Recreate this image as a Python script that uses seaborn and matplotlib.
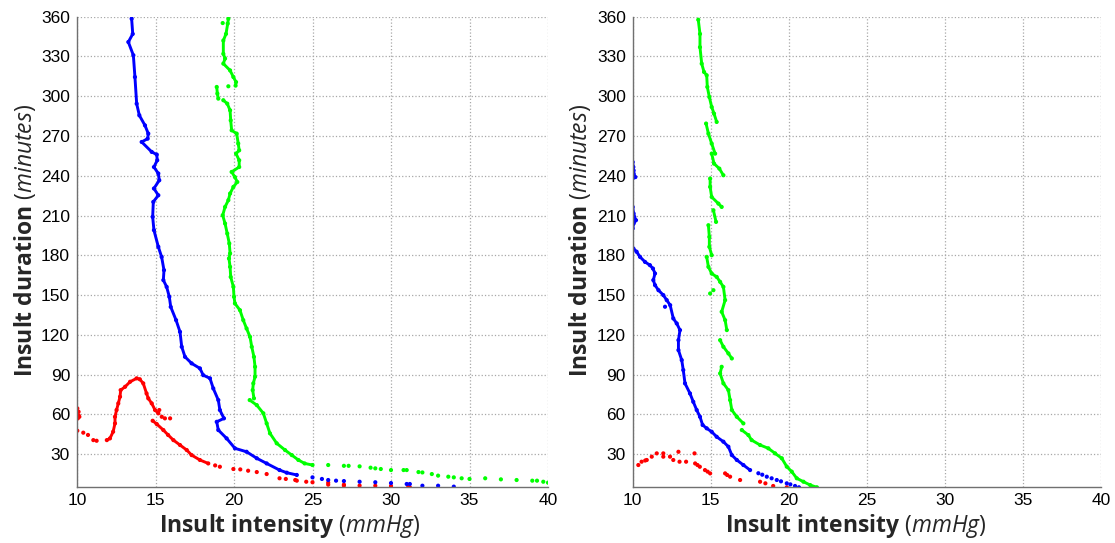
import numpy as np
import pandas as pd
import seaborn as sns
import matplotlib
matplotlib.use("Agg")
import matplotlib.pyplot as plt
from matplotlib.ticker import MultipleLocator

# ---- data (seg 0 = loose dots, seg > 0 = connected run) ----
# left panel
L_BLUE_X = [13.48, 13.55, 13.27, 13.59, 13.69, 13.80, 13.97, 14.33, 14.54, 14.50, 14.12, 14.76, 15.08, 15.11,
            14.90, 15.18, 15.24, 14.90, 15.18, 14.86, 14.82, 14.90, 15.18, 15.39, 15.54, 15.50, 15.71, 15.88,
            15.97, 16.31, 16.56, 16.67, 16.88, 17.30, 17.83, 18.04, 18.47, 18.68, 19.00, 19.10, 19.36, 18.90,
            19.00, 19.53, 20.06, 20.80, 21.45, 22.08, 22.90, 23.36, 24.00,
            25.0, 25.6, 26.0, 26.5, 27.0, 28.0, 29.0, 30.0, 31.0, 31.2, 32.0, 33.0, 34.0]
L_BLUE_Y = [358.5, 347, 340.9, 330.9, 314.5, 294.4, 285.6, 278, 271.8, 268, 265.5, 258, 256, 251.7,
            246.6, 241.7, 236.6, 230.4, 225.3, 220.3, 209, 199, 186.4, 178.8, 168.8, 161.3, 156.2, 148.7,
            141.1, 131.1, 122.3, 111, 103.4, 98.5, 94.7, 89.6, 87.2, 79.6, 70.8, 63.3, 57, 54.4,
            48.2, 41.9, 34.4, 31.8, 26.9, 23, 18, 16, 14.3,
            12.5, 11.3, 10.5, 10, 9.7, 9.2, 8.8, 8.2, 7.5, 7.5, 6.2, 6.2, 5.5]
L_BLUE_SEG = [1] * 51 + [0] * 13

L_GREEN_X = [19.64, 19.60, 19.49, 19.32, 19.32, 19.43, 19.32, 19.75, 19.96, 20.13, 20.10,
             19.28, 19.64,
             18.90, 18.94, 19.00,
             19.32, 19.57, 19.75, 19.79, 19.85, 20.17, 20.27, 20.33, 20.13, 20.33, 20.33, 19.85, 20.06,
             20.21, 19.96, 19.75, 19.64, 19.43, 19.28, 19.43, 19.57, 19.70, 19.75, 19.68, 19.75, 19.79,
             19.96, 20.00, 20.06, 20.38, 20.59, 20.80, 21.02, 21.13, 21.27, 21.34, 21.34, 21.23, 21.19, 21.27,
             21.00, 21.45, 21.87, 22.08, 22.29, 22.72, 23.25, 23.68, 24.10, 24.50, 25.00,
             26.0, 27.0, 27.3, 28.0, 28.7, 29.0, 29.35, 30.0, 30.8, 31.0, 31.75, 32.0, 32.6, 33.0, 33.65,
             34.0, 34.5, 35.0, 36.0, 37.0, 38.0, 39.0, 39.3, 39.7, 40.0]
L_GREEN_Y = [358.5, 354.8, 347, 342, 332, 328.4, 324.6, 319.5, 314.5, 310.7, 308,
             355.2, 307.5,
             307, 302, 298.2,
             297, 294.4, 289.4, 281.8, 274.3, 271.8, 264.3, 259.2, 256.7, 251.7, 246.6, 242.9, 239,
             235.3, 231.6, 226.6, 221.6, 216.5, 210.2, 204, 196.4, 188.9, 181.4, 177.6, 171.3, 163.7,
             156.2, 148.7, 143.7, 138.6, 131.1, 124.8, 118.5, 111, 103.4, 95.9, 88.4, 83.4, 78.3, 72.1,
             70.8, 67, 60.8, 53.2, 45.7, 38.2, 33.1, 29.3, 25.6, 23, 21.8,
             21.8, 21.2, 21.2, 20.8, 19.8, 19.3, 18.8, 18, 18, 18, 16.5, 16.2, 15, 13.8, 13,
             12.5, 11.8, 11.3, 11.8, 11, 10.5, 10, 10, 9.2, 8.5]
L_GREEN_SEG = [1] * 11 + [0] * 2 + [2] * 3 + [3] * 40 + [4] * 11 + [0] * 25

L_RED_X = [10.02, 10.10, 10.15, 10.10, 10.05,
           10.02, 10.40, 10.70, 11.04, 11.25,
           11.90, 12.10, 12.30, 12.42, 12.42, 12.52, 12.63, 12.74, 12.78, 13.06, 13.38, 13.80, 14.00,
           14.22, 14.43, 14.54, 14.76, 14.97, 15.18,
           15.24, 15.40, 15.60, 15.93,
           14.82, 15.08, 15.50, 15.80, 16.14, 16.56, 16.99, 17.30, 17.83, 18.36,
           18.80, 19.10, 19.96, 20.40, 20.90, 21.45, 22.08, 22.90, 23.30, 23.90, 24.00, 24.60, 25.00,
           26.0, 26.0, 27.0, 27.0, 28.0, 29.0, 30.0, 31.1, 31.2]
L_RED_Y = [64.5, 62, 58.2, 59.4, 57,
           47.7, 46.2, 44.5, 40.6, 40.1,
           40.6, 41.9, 46.9, 53.2, 58.2, 63.3, 68.3, 73.3, 78.3, 80.8, 84.6, 87.2, 86.5,
           83.4, 75.8, 72.1, 68.3, 63.3, 60.8,
           63.3, 58.2, 57, 57,
           55.2, 52.7, 48.2, 44.5, 40.6, 36.9, 33.1, 29.3, 25.6, 23,
           21.5, 20.5, 18.8, 18.5, 17.5, 16.5, 15, 11.8, 11.3, 10.5, 10, 9.2, 8.8,
           8.5, 7, 7, 6.3, 6.3, 6.2, 6, 5.5, 5]
L_RED_SEG = [0] * 10 + [1] * 19 + [0] * 4 + [2] * 10 + [0] * 22

# right panel
R_BLUE_X = [10.00, 10.04, 10.06, 10.06, 10.17, 10.00,
            10.00, 10.06, 10.10, 10.21, 10.06, 10.00,
            10.04, 10.25, 10.47, 10.79, 11.10, 11.30, 11.43, 11.32, 11.43, 11.65, 11.96, 12.18, 12.40,
            12.60, 12.82, 13.03, 12.93, 12.93, 13.14, 13.24, 13.35, 13.67, 13.88, 14.10, 14.31, 14.48,
            14.74, 15.06, 15.38, 15.81, 16.13, 16.35, 16.67, 17.09, 17.52,
            12.07, 18.05, 18.30, 18.59, 18.90, 19.23, 19.50, 19.87, 20.10, 20.40, 20.65]
R_BLUE_Y = [250.4, 246.6, 244, 241.6, 239, 238,
            216.5, 211.5, 209, 206.5, 204, 200.2,
            185.2, 182.7, 178.8, 175, 172.6, 170, 166.3, 161.3, 157.5, 153.7, 150, 146.2, 142.4,
            132.4, 128.6, 123.6, 116, 108.5, 101, 93.4, 83.4, 75.8, 69.5, 63.3, 58.2, 52,
            49.5, 46.9, 43.1, 39.4, 35.6, 29.3, 25.6, 21.8, 18,
            141.2, 15.6, 14.5, 13, 11.8, 10.5, 9.5, 8, 7.2, 6, 5]
R_BLUE_SEG = [1] * 6 + [2] * 6 + [3] * 35 + [0] * 11

R_GREEN_X = [14.20, 14.31, 14.31, 14.42, 14.57, 14.74, 14.78, 14.91, 15.06, 15.21, 15.38,
             14.70, 14.85, 15.06, 15.28,
             15.06, 15.21, 15.55, 15.81,
             14.96, 14.96, 15.06, 15.49, 15.70,
             15.17, 15.34,
             14.85, 14.91, 14.91, 15.06,
             14.74, 14.85, 15.06, 15.38, 15.60, 15.81, 15.92, 15.70, 15.92, 16.03,
             15.60, 15.81, 16.13, 16.35,
             15.70, 15.60, 15.81, 16.13, 16.24, 16.35, 16.67, 17.09,
             16.99, 17.41, 17.62, 18.16, 18.69, 19.12, 19.55, 19.87, 20.19, 20.51, 20.94, 21.37, 21.80,
             15.17, 14.96]
R_GREEN_Y = [357.7, 347, 337, 324.6, 318.3, 315.8, 307, 299.4, 291.9, 286.9, 280.6,
             279.4, 271.8, 264.3, 256.7,
             256.7, 249.2, 245.4, 240.4,
             237.9, 231.6, 224, 219, 216.5,
             214, 205.2,
             202.7, 193.9, 186.4, 180.1,
             178.8, 171.3, 166.3, 163.7, 160, 156.2, 146.2, 137.4, 131.1, 123.6,
             116, 111, 106, 102.2,
             95.9, 90.9, 83.4, 78.3, 70.8, 63.3, 58.2, 53.2,
             48.2, 44.4, 40.6, 36.9, 34.4, 30.6, 26.9, 20.6, 16.8, 11.8, 9.2, 6.7, 5,
             153.7, 151.2]
R_GREEN_SEG = ([1] * 11 + [2] * 4 + [3] * 4 + [4] * 5 + [5] * 2 + [6] * 4 + [7] * 10 + [8] * 4
               + [9] * 8 + [10] * 13 + [0] * 2)

R_RED_X = [10.36, 10.57, 10.80, 10.90, 11.22, 11.54, 11.96, 11.96, 12.39, 12.60, 12.93, 13.00, 13.42,
           13.96, 14.00, 14.15, 14.30, 14.63, 14.80, 14.96, 15.92, 16.05, 16.24, 16.88, 18.16, 18.50,
           19.00, 19.87]
R_RED_Y = [21.8, 24.3, 25.2, 25.6, 28.1, 30.6, 30.6, 28.1, 28.1, 25.6, 31.8, 24.3, 24.3,
           30.6, 23, 21.8, 20.5, 18, 16.8, 15.5, 15.5, 14.3, 13, 10.5, 9.2, 8,
           6, 5]
R_RED_SEG = [0] * 28

COLORS = {"red": "#ff0000", "blue": "#0000ff", "green": "#00ff00"}


def make_frame(panel, color, xs, ys, segs):
    df = pd.DataFrame({"x": xs, "y": ys, "seg": segs})
    df["panel"] = panel
    df["curve"] = color
    df["unit"] = color + "_" + df["seg"].astype(str)
    return df


data = pd.concat([
    make_frame("left", "red", L_RED_X, L_RED_Y, L_RED_SEG),
    make_frame("left", "blue", L_BLUE_X, L_BLUE_Y, L_BLUE_SEG),
    make_frame("left", "green", L_GREEN_X, L_GREEN_Y, L_GREEN_SEG),
    make_frame("right", "red", R_RED_X, R_RED_Y, R_RED_SEG),
    make_frame("right", "blue", R_BLUE_X, R_BLUE_Y, R_BLUE_SEG),
    make_frame("right", "green", R_GREEN_X, R_GREEN_Y, R_GREEN_SEG),
], ignore_index=True)

# ---- style ----
sns.set_theme(style="white")
plt.rcParams["font.family"] = ["Liberation Sans", "DejaVu Sans"]
plt.rcParams["mathtext.fontset"] = "custom"
plt.rcParams["mathtext.it"] = "Open Sans:italic"
plt.rcParams["mathtext.rm"] = "Open Sans"

fig = plt.figure(figsize=(11.15, 5.43), dpi=100)
ax_l = fig.add_axes([77 / 1115, 1 - 487.3 / 543, 471 / 1115, 470.6 / 543])
ax_r = fig.add_axes([632.7 / 1115, 1 - 487.3 / 543, 468.3 / 1115, 470.6 / 543])

label_kw = dict(fontsize=16.5, fontweight="bold", family="Open Sans")

panels = [(ax_l, "left", 0.452, -0.083), (ax_r, "right", 0.477, -0.085)]
for ax, panel, xlab_x, ylab_x in panels:
    sub = data[data["panel"] == panel]
    lines = sub[sub["seg"] > 0]
    sns.lineplot(data=lines, x="x", y="y", hue="curve", units="unit", estimator=None, sort=False,
                 palette=COLORS, linewidth=2.1, legend=False, ax=ax)
    sns.scatterplot(data=sub, x="x", y="y", hue="curve", palette=COLORS, s=9, linewidth=0,
                    legend=False, ax=ax)

    ax.set_xlim(10, 40)
    ax.set_ylim(5, 360)
    ax.xaxis.set_major_locator(MultipleLocator(5))
    ax.xaxis.set_minor_locator(MultipleLocator(1))
    ax.set_yticks(np.arange(30, 361, 30))
    ax.yaxis.set_minor_locator(MultipleLocator(15))
    ax.grid(True, which="major", linestyle=":", color="#a8a8a8", linewidth=0.9)
    ax.set_axisbelow(True)
    for side in ["top", "right"]:
        ax.spines[side].set_visible(False)
    for side in ["left", "bottom"]:
        ax.spines[side].set_color("#707070")
        ax.spines[side].set_linewidth(1.0)
    ax.tick_params(which="both", direction="in", colors="#707070", labelcolor="black",
                   labelsize=12.5)
    ax.tick_params(which="major", length=5)
    ax.tick_params(which="minor", length=3)
    ax.tick_params(axis="y", pad=5)
    ax.tick_params(axis="x", pad=4)

    ax.set_xlabel(r"Insult intensity $\mathit{(mmHg)}$", **label_kw)
    ax.set_ylabel(r"Insult duration $\mathit{(minutes)}$", **label_kw)
    ax.xaxis.set_label_coords(xlab_x, -0.053)
    ax.yaxis.set_label_coords(ylab_x, 0.524)

fig.savefig("out.png", dpi=100)
